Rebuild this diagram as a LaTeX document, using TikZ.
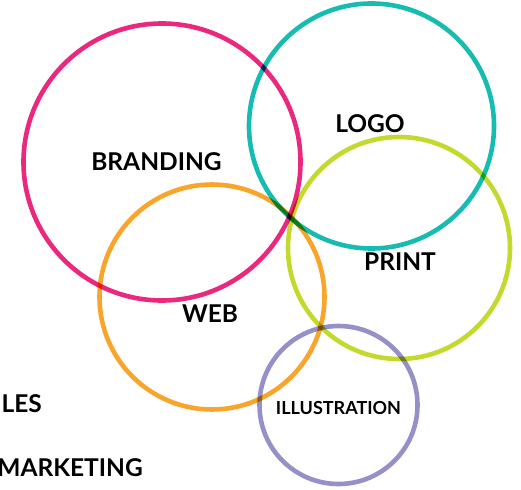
\documentclass[tikz,border=0pt]{standalone}
\usepackage{fontspec}
\setmainfont{Lato}
\usetikzlibrary{positioning}
\definecolor{brandpink}{HTML}{E9287E}
\definecolor{logoteal}{HTML}{17BCB1}
\definecolor{printgreen}{HTML}{C3D92E}
\definecolor{weborange}{HTML}{F9A42A}
\definecolor{illpurple}{HTML}{9590C8}

\begin{document}
\begin{tikzpicture}[x=1pt, y=-1pt, ring/.style={line width=4.6pt}, lbl/.style={font=\fontsize{24.5}{28}\selectfont\bfseries, inner sep=0pt}]
  \useasboundingbox (0,0) rectangle (521,489);
  \clip (0,0) rectangle (521,489);
  % centres of the rings
  \coordinate (branding) at (162,162);
  \coordinate (logo) at (371.5,126);
  \coordinate (print) at (399,248);
  \coordinate (web) at (212,297);
  \coordinate (illustration) at (338.5,405);
  \begin{scope}[blend group=multiply]
    \draw[ring, brandpink] (branding) circle (138.5pt);% branding ring
    \draw[ring, logoteal] (logo) circle (122.5pt);% logo ring
    \draw[ring, printgreen] (print) circle (111pt);% print ring
    \draw[ring, weborange] (web) circle (112.5pt);% web ring
    \draw[ring, illpurple] (illustration) circle (79pt);% illustration ring
  \end{scope}
  \node[lbl] (brandingtext) at (156.5,162) {BRANDING};
  \node[lbl] (logotext) at (370,124) {LOGO};
  \node[lbl] (printtext) at (400,262) {PRINT};
  \node[lbl] (webtext) at (210,314) {WEB};
  \node[lbl, font=\fontsize{18}{21}\selectfont\bfseries] (illustrationtext) at (338.5,408) {ILLUSTRATION};
  \node[lbl, anchor=east] (salestext) at (42,404) {LES};
  \node[lbl, anchor=east] (marketingtext) at (143,467.5) {MARKETING};
\end{tikzpicture}
\end{document}
